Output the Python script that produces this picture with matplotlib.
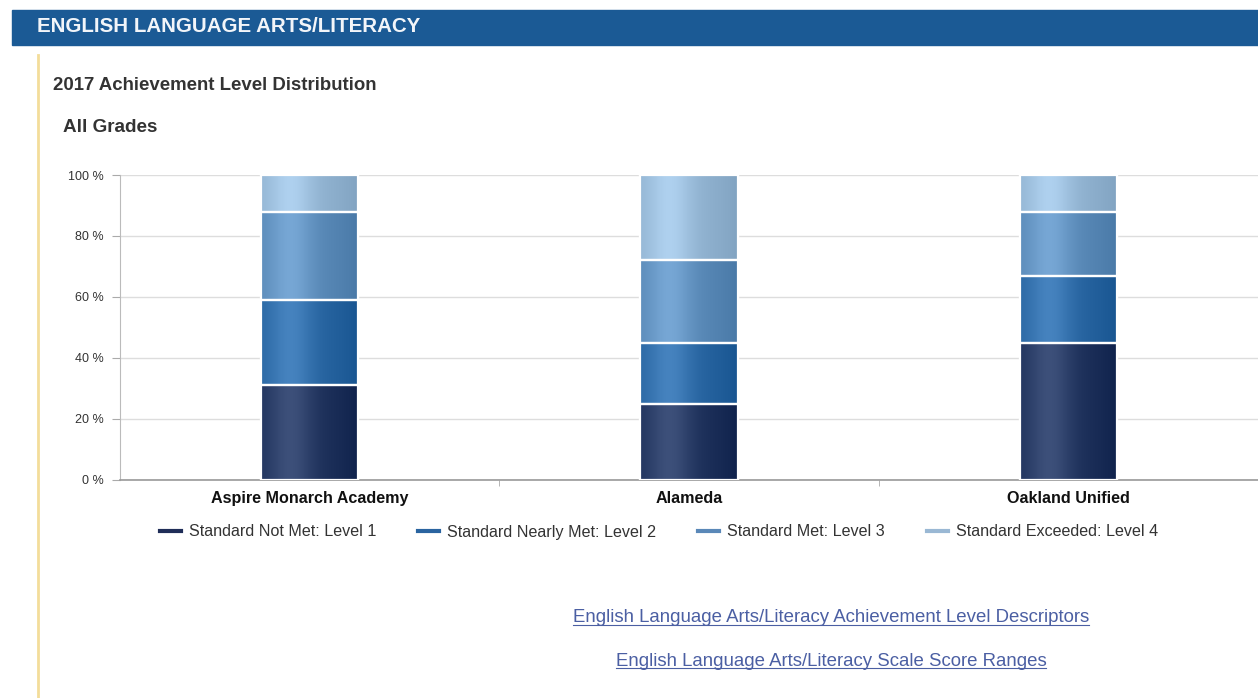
import numpy as np
import matplotlib.pyplot as plt
from matplotlib.colors import to_rgb
from matplotlib.lines import Line2D

plt.rcParams['font.family'] = ['Liberation Sans', 'DejaVu Sans']

# data (percent of students)
districts = ['Aspire Monarch Academy', 'Alameda', 'Oakland Unified']
levels = ['Standard Not Met: Level 1', 'Standard Nearly Met: Level 2',
          'Standard Met: Level 3', 'Standard Exceeded: Level 4']
level1 = [31, 25, 45]
level2 = [28, 20, 22]
level3 = [29, 27, 21]
level4 = [12, 28, 12]
yticks = [0, 20, 40, 60, 80, 100]

colors = ['#21345e', '#2a67a3', '#5b8bb9', '#93b5d3']
legend_colors = ['#1f2d58', '#2a64a0', '#5a88b8', '#9ab8d4']
text_col = '#333333'
link_col = '#4b5fa3'

W, H = 1258, 698
fig = plt.figure(figsize=(W / 100, H / 100), dpi=100)


def fx(px):
    return px / W


def fy(py):
    return 1 - py / H


# header bar
fig.patches.append(plt.Rectangle((fx(12), fy(45)), fx(W - 12), 35 / H,
                                 transform=fig.transFigure, color='#1b5a95', zorder=0))
fig.text(fx(37), fy(27), 'ENGLISH LANGUAGE ARTS/LITERACY', color='#f2f5f9',
         fontsize=14.8, fontweight='bold', va='center')
# yellow side rule
fig.lines.append(Line2D([fx(38), fx(38)], [fy(55), 0], transform=fig.transFigure,
                        color='#f3dd9a', lw=2))

fig.text(fx(53), fy(86), '2017 Achievement Level Distribution', color=text_col,
         fontsize=13.4, fontweight='bold', va='center')
fig.text(fx(63), fy(128), 'All Grades', color=text_col,
         fontsize=13.6, fontweight='bold', va='center')

ax = fig.add_axes([fx(120), fy(480), fx(W - 120), (480 - 175) / H])
x = np.arange(len(districts))
series = [level1, level2, level3, level4]
bottom = np.zeros(len(districts))
bw = 0.256

# horizontal shading profile used to mimic the glossy bars
prof = np.linspace(0, 1, 64)
shade = 0.11 * np.exp(-((prof - 0.3) / 0.22) ** 2) - 0.07 * prof ** 3
for vals, c in zip(series, colors):
    bars = ax.bar(x, vals, bw, bottom=bottom, color=c, edgecolor='white',
                  linewidth=1.6, zorder=3)
    base = np.array(to_rgb(c))
    row = np.clip(base[None, :] + shade[:, None], 0, 1)
    img = row[None, :, :]
    for b in bars:
        x0, y0 = b.get_x(), b.get_y()
        im = ax.imshow(img, extent=[x0, x0 + b.get_width(), y0, y0 + b.get_height()],
                       aspect='auto', zorder=3.5, interpolation='bilinear')
        im.set_clip_path(b)
        b2 = plt.Rectangle((x0, y0), b.get_width(), b.get_height(), fill=False,
                           edgecolor='white', linewidth=1.6, zorder=4)
        ax.add_patch(b2)
    bottom += np.array(vals)

ax.set_xlim(-0.5, 2.5)
ax.set_ylim(0, 100)
ax.set_yticks(yticks)
ax.set_yticklabels([f'{v} %' for v in yticks], fontsize=9, color=text_col)
ax.set_xticks(x)
ax.set_xticklabels(districts, fontsize=11.6, fontweight='bold', color='#111111')
ax.tick_params(axis='x', length=0, pad=8)
ax.tick_params(axis='y', length=6, color='#aaaaaa', pad=6)
ax.set_xticks([0.5, 1.5], minor=True)
ax.tick_params(axis='x', which='minor', length=4, color='#aaaaaa')
ax.grid(axis='y', color='#dddddd', lw=1, zorder=0)
for s in ['top', 'right']:
    ax.spines[s].set_visible(False)
ax.spines['left'].set_color('#bbbbbb')
ax.spines['bottom'].set_color('#999999')
ax.spines['bottom'].set_linewidth(1.2)

handles = [Line2D([], [], color=c, lw=3) for c in legend_colors]
fig.legend(handles, levels, loc='center', bbox_to_anchor=(fx(659), fy(532)),
           ncol=4, frameon=False, fontsize=11.6, handlelength=1.3,
           columnspacing=2.6, handletextpad=0.5, labelcolor=text_col)

links = ['English Language Arts/Literacy Achievement Level Descriptors',
         'English Language Arts/Literacy Scale Score Ranges']
link_y = [618, 661]
fig.canvas.draw()
r = fig.canvas.get_renderer()
for t, yy in zip(links, link_y):
    tx = fig.text(fx(831), fy(yy), t, color=link_col, fontsize=13.4,
                  ha='center', va='center')
    bb = tx.get_window_extent(r)
    uy = bb.y0 + 2
    fig.lines.append(Line2D([bb.x0 / W, bb.x1 / W], [uy / H, uy / H],
                            transform=fig.transFigure, color=link_col, lw=0.8))

fig.savefig('out.png', dpi=100)
